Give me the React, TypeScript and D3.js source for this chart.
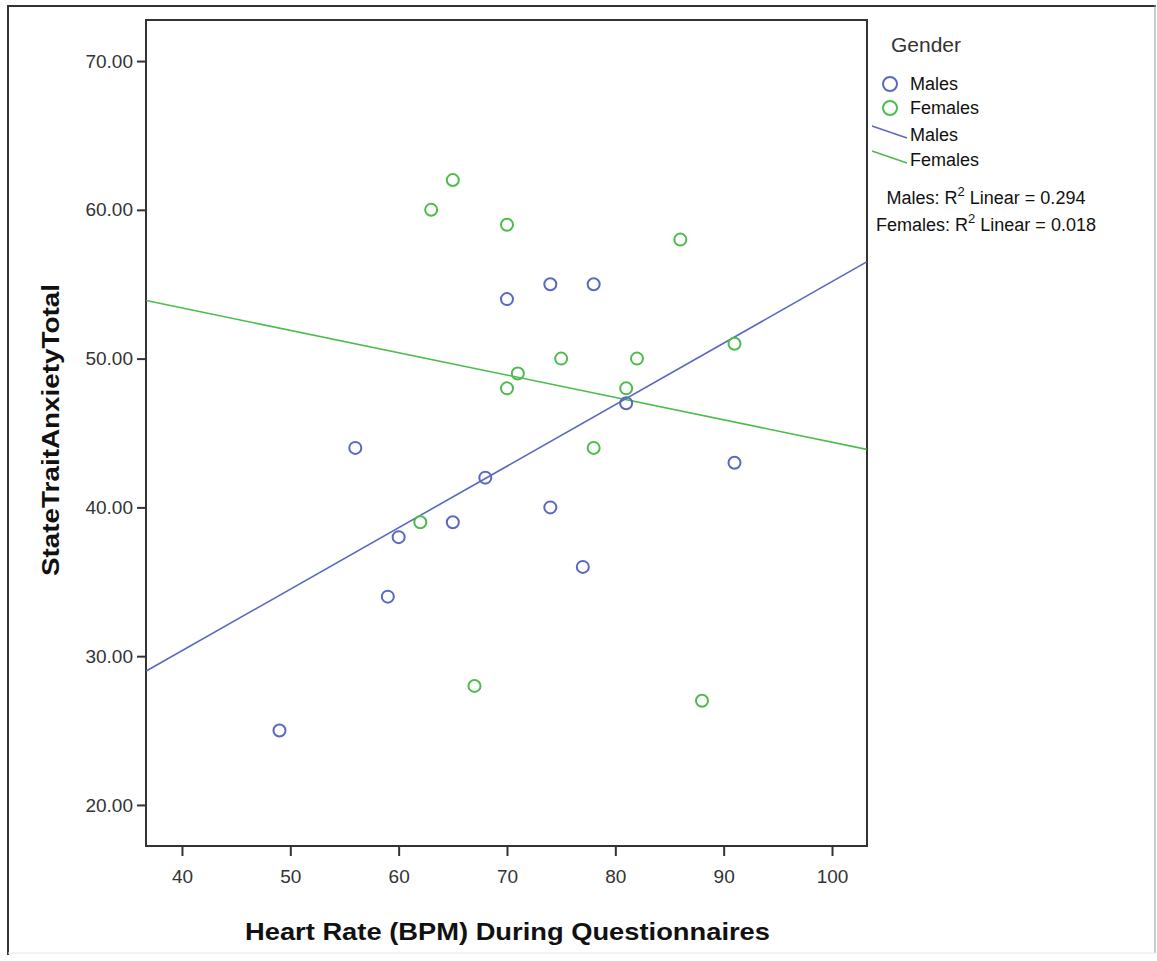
import React, { useEffect, useRef } from 'react';
import * as d3 from 'd3';

// Heart rate (BPM) vs State Trait Anxiety Total, by gender
const maleHR = [49, 56, 59, 60, 65, 68, 70, 74, 74, 77, 78, 81, 91];
const maleAnx = [25, 44, 34, 38, 39, 42, 54, 55, 40, 36, 55, 47, 43];
const femaleHR = [63, 65, 70, 86, 75, 82, 71, 70, 81, 91, 78, 62, 67, 88];
const femaleAnx = [60, 62, 59, 58, 50, 50, 49, 48, 48, 51, 44, 39, 28, 27];

// fit lines at the axis edges
const fitX = [36.7, 103.2];
const maleFitY = [29.0, 56.5];
const femaleFitY = [53.9, 43.9];

const xTicks = [40, 50, 60, 70, 80, 90, 100];
const yTicks = [20, 30, 40, 50, 60, 70];
const seriesNames = ['Males', 'Females'];
const r2Labels = ['0.294', '0.018'];

const BLUE = '#5a68c2';
const GREEN = '#4cbc4c';
const FONT = '"Liberation Sans", Arial, sans-serif';

const App = () => {
  const svgRef = useRef<SVGSVGElement | null>(null);

  useEffect(() => {
    if (!svgRef.current) return;
    const svg = d3.select(svgRef.current);
    svg.selectAll('*').remove();

    const W = 1157;
    const H = 961;
    const left = 146, right = 867, top = 20, bottom = 846;

    svg.attr('width', W).attr('height', H);

    // outer frame
    svg.append('rect').attr('x', 0).attr('y', 0).attr('width', W).attr('height', H).attr('fill', '#fff');
    svg.append('line').attr('x1', 7).attr('y1', 6).attr('x2', 1156).attr('y2', 6).attr('stroke', '#333').attr('stroke-width', 2);
    svg.append('line').attr('x1', 8).attr('y1', 5).attr('x2', 8).attr('y2', 955).attr('stroke', '#333').attr('stroke-width', 2);
    svg.append('line').attr('x1', 1155).attr('y1', 5).attr('x2', 1155).attr('y2', 953).attr('stroke', '#999').attr('stroke-width', 1);
    svg.append('line').attr('x1', 8).attr('y1', 953).attr('x2', 1155).attr('y2', 953).attr('stroke', '#e6e6e6').attr('stroke-width', 1);

    const x = d3.scaleLinear().domain([36.68, 103.23]).range([left, right]);
    const y = d3.scaleLinear().domain([17.24, 72.76]).range([bottom, top]);

    // plot frame
    svg.append('rect')
      .attr('x', left).attr('y', top)
      .attr('width', right - left).attr('height', bottom - top)
      .attr('fill', 'none').attr('stroke', '#333').attr('stroke-width', 2);

    // x axis
    const xAxis = svg.append('g')
      .attr('transform', `translate(0,${bottom})`)
      .call(d3.axisBottom(x).tickValues(xTicks).tickSize(10).tickPadding(14).tickFormat(d3.format('d')));
    xAxis.select('.domain').remove();
    xAxis.selectAll('line').attr('stroke', '#333').attr('stroke-width', 2);
    xAxis.selectAll('text')
      .attr('fill', '#333')
      .style('font-family', FONT)
      .style('font-size', '19px');

    // y axis
    const yAxis = svg.append('g')
      .attr('transform', `translate(${left},0)`)
      .call(d3.axisLeft(y).tickValues(yTicks).tickSize(9).tickPadding(4).tickFormat(d3.format('.2f')));
    yAxis.select('.domain').remove();
    yAxis.selectAll('line').attr('stroke', '#333').attr('stroke-width', 2);
    yAxis.selectAll('text')
      .attr('fill', '#333')
      .style('font-family', FONT)
      .style('font-size', '19px');

    // axis titles
    svg.append('text')
      .attr('x', (left + right) / 2 + 1)
      .attr('y', 940)
      .attr('text-anchor', 'middle')
      .attr('textLength', 525)
      .attr('lengthAdjust', 'spacingAndGlyphs')
      .style('font-family', FONT)
      .style('font-size', '24px')
      .style('font-weight', 'bold')
      .attr('fill', '#111')
      .text('Heart Rate (BPM) During Questionnaires');

    svg.append('text')
      .attr('transform', `translate(59,${430}) rotate(-90)`)
      .attr('text-anchor', 'middle')
      .attr('textLength', 292)
      .attr('lengthAdjust', 'spacingAndGlyphs')
      .style('font-family', FONT)
      .style('font-size', '24px')
      .style('font-weight', 'bold')
      .attr('fill', '#111')
      .text('StateTraitAnxietyTotal');

    // fit lines
    const line = d3.line<[number, number]>()
      .x(d => x(d[0]))
      .y(d => y(d[1]));

    svg.append('path')
      .datum(fitX.map((v, i) => [v, femaleFitY[i]] as [number, number]))
      .attr('fill', 'none').attr('stroke', GREEN).attr('stroke-width', 1.6)
      .attr('d', line);
    svg.append('path')
      .datum(fitX.map((v, i) => [v, maleFitY[i]] as [number, number]))
      .attr('fill', 'none').attr('stroke', BLUE).attr('stroke-width', 1.6)
      .attr('d', line);

    // points
    const drawPoints = (xs: number[], ys: number[], color: string) => {
      svg.append('g')
        .selectAll('circle')
        .data(xs.map((v, i) => ({ hr: v, anx: ys[i] })))
        .enter()
        .append('circle')
        .attr('cx', d => x(d.hr))
        .attr('cy', d => y(d.anx))
        .attr('r', 6)
        .attr('fill', 'none')
        .attr('stroke', color)
        .attr('stroke-width', 2);
    };
    drawPoints(femaleHR, femaleAnx, GREEN);
    drawPoints(maleHR, maleAnx, BLUE);

    // legend
    const legend = svg.append('g');
    legend.append('text')
      .attr('x', 891).attr('y', 52)
      .style('font-family', FONT).style('font-size', '21px')
      .attr('fill', '#333')
      .text('Gender');

    const colors = [BLUE, GREEN];
    seriesNames.forEach((name, i) => {
      legend.append('circle')
        .attr('cx', 890).attr('cy', 84 + i * 24)
        .attr('r', 7)
        .attr('fill', 'none').attr('stroke', colors[i]).attr('stroke-width', 2);
      legend.append('text')
        .attr('x', 910).attr('y', 90 + i * 24)
        .style('font-family', FONT).style('font-size', '18px')
        .attr('fill', '#111')
        .text(name);
      legend.append('line')
        .attr('x1', 872).attr('y1', 126 + i * 25)
        .attr('x2', 907).attr('y2', 138 + i * 25)
        .attr('stroke', colors[i]).attr('stroke-width', 1.6);
      legend.append('text')
        .attr('x', 910).attr('y', 141 + i * 25)
        .style('font-family', FONT).style('font-size', '18px')
        .attr('fill', '#111')
        .text(name);
    });

    seriesNames.forEach((name, i) => {
      const t = legend.append('text')
        .attr('x', 986).attr('y', 204 + i * 27)
        .attr('text-anchor', 'middle')
        .style('font-family', FONT).style('font-size', '18px')
        .attr('fill', '#111');
      t.append('tspan').text(`${name}: R`);
      t.append('tspan').attr('dy', -8).style('font-size', '13px').text('2');
      t.append('tspan').attr('dy', 8).text(` Linear = ${r2Labels[i]}`);
    });
  }, []);

  return (
    <div style={{ position: 'absolute', left: 0, top: 0, width: 1157, height: 961 }}>
      <svg ref={svgRef} style={{ display: 'block' }}></svg>
    </div>
  );
};

export default App;
